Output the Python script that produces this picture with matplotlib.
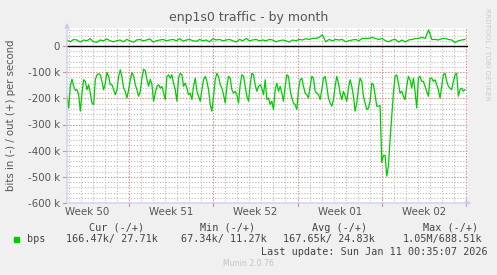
import numpy as np
import matplotlib
matplotlib.use("Agg")
import matplotlib.pyplot as plt

# =============================================================================
# DATA (values in kbit/s)
# =============================================================================
in_kbps = [
    -192, -237, -154, -127, -154, -170, -167, -186, -249, -180,
    -129, -135, -167, -148, -180, -218, -224, -129, -110, -106,
    -110, -135, -167, -142, -101, -116, -148, -148, -167, -186,
    -167, -116, -91, -119, -161, -173, -199, -167, -129, -101,
    -114, -148, -167, -192, -173, -123, -89, -94, -129, -154,
    -127, -148, -211, -180, -154, -148, -161, -154, -180,
    -205, -116, -110, -123, -110, -142, -167, -211, -123, -104,
    -110, -154, -142, -161, -186, -180, -205, -154, -123, -173,
    -192, -211, -167, -129, -116, -135, -167, -224, -249, -192,
    -129, -104, -116, -148, -161, -186, -218, -154, -116, -123,
    -167, -180, -173, -186, -218, -148, -110, -116, -154, -192,
    -211, -148, -104, -110, -148, -173, -154, -148, -161, -186,
    -129, -205, -199, -224, -211, -243, -167, -142, -173, -154,
    -180, -211, -154, -110, -116, -167, -199, -218, -224, -243,
    -167, -129, -123, -154, -180, -186, -199, -154, -116, -123,
    -173, -180, -186, -205, -167, -123, -116, -154, -199, -218,
    -230, -205, -154, -116, -142, -180, -205, -173, -192, -211,
    -161, -129, -154, -192, -249, -218, -161, -123, -135, -192,
    -218, -243, -237, -211, -142, -148, -186, -230, -230, -228,
    -445, -418, -418, -497, -459, -357, -269, -180, -116, -110,
    -142, -180, -173, -192, -205, -154, -116, -129, -161, -123,
    -173, -237, -123, -116, -135, -135, -154, -173, -192, -123,
    -123, -135, -129, -148, -167, -199, -154, -110, -104, -135,
    -154, -161, -167, -135, -110, -104, -192, -167, -161, -173,
    -167,
]

out_kbps = [
    23, 16, 25, 23, 15, 23, 20, 28, 16, 14,
    23, 20, 27, 20, 16, 20, 23, 16, 25, 20,
    14, 23, 25, 20, 23, 27, 15, 20, 23, 25,
    20, 23, 25, 20, 28, 19, 23, 25, 20, 18,
    25, 20, 23, 16, 28, 23, 25, 20, 23, 25,
    20, 15, 25, 20, 29, 20, 23, 25, 20, 23,
    20, 25, 23, 16, 20, 23, 20, 15, 23, 20,
    25, 23, 28, 25, 29, 29, 33, 43, 16, 25,
    20, 25, 23, 25, 16, 20, 23, 25, 20, 29,
    29, 29, 33, 29, 25, 29, 20, 16, 23, 25,
    15, 23, 15, 23, 25, 28, 29, 33, 29, 61,
    25, 25, 23, 28, 29, 25, 23, 13, 20, 23,
    25,
]

y_ticks = [0, -100, -200, -300, -400, -500, -600]
y_tick_labels = ["0", "-100 k", "-200 k", "-300 k", "-400 k", "-500 k", "-600 k"]
week_labels = ["Week 50", "Week 51", "Week 52", "Week 01", "Week 02"]

legend_headers = ["Cur (-/+)", "Min (-/+)", "Avg (-/+)", "Max (-/+)"]
legend_values = ["166.47k/ 27.71k", "67.34k/ 11.27k", "167.65k/ 24.83k", "1.05M/688.51k"]

# =============================================================================
# LAYOUT (pixel geometry of the 497x275 munin image)
# =============================================================================
W, H = 497, 275
PX_DAY = 84.25 / 7.0          # pixels per day on the time axis
X0, X1 = 67, 468              # plot area left/right
Y_TOP, Y_BOT = 28, 203        # plot area top/bottom
T_END = (X1 - X0) / PX_DAY
FIRST_WEEK = (129 - X0) / PX_DAY
Y_MAX = (46 - Y_TOP) / ((Y_BOT - 46) / 600.0)

GREEN = "#00CC00"
TXT = "#555555"
AXIS = "#C8CCF4"
MINOR = "#BDBDBD"
MAJOR = "#E88888"


def fx(px):
    return px / W


def fy(py):
    return 1 - py / H


fig = plt.figure(figsize=(W / 100, H / 100), dpi=100)
fig.patch.set_facecolor("#F0F0F0")
ax = fig.add_axes([fx(X0), fy(Y_BOT), (X1 - X0) / W, (Y_BOT - Y_TOP) / H])
ax.set_facecolor("white")
ax.set_xlim(0, T_END)
ax.set_ylim(-600, Y_MAX)

# grid: minor grey dotted, major red dotted
dot = (0, (1, 1.6))
for d in np.arange(FIRST_WEEK - 5, T_END, 1.0):
    ax.axvline(d, color=MINOR, lw=0.8, ls=dot, zorder=1)
for v in np.arange(-580, Y_MAX, 20):
    ax.axhline(v, color=MINOR, lw=0.8, ls=dot, zorder=1)
for d in np.arange(FIRST_WEEK, T_END, 7.0):
    ax.axvline(d, color=MAJOR, lw=0.8, ls=dot, zorder=1.5)
for v in y_ticks:
    ax.axhline(v, color=MAJOR, lw=0.8, ls=dot, zorder=1.5)

# series
t_in = np.linspace(0, 33.07, len(in_kbps))
t_out = np.linspace(0, 33.07, len(out_kbps))
ax.plot(t_in, in_kbps, color=GREEN, lw=0.9, zorder=3)
ax.plot(t_out, out_kbps, color=GREEN, lw=0.9, zorder=3)
ax.axhline(0, color="black", lw=1.0, zorder=2.5)

# ticks (short marks outside the plot, like rrdtool)
ax.set_yticks(y_ticks)
ax.set_yticklabels(y_tick_labels)
ax.set_xticks([FIRST_WEEK - 3.5 + 7 * i for i in range(len(week_labels))])
ax.set_xticklabels(week_labels)
ax.tick_params(axis="both", length=0, labelsize=7.4, labelcolor=TXT, pad=5)
ax.tick_params(axis="x", pad=3)
for v in y_ticks:
    ax.plot([-0.3, -0.05], [v, v], color=MAJOR, lw=0.8, clip_on=False, zorder=2)
for d in np.arange(FIRST_WEEK, T_END, 7.0):
    ax.plot([d, d], [-600, -610], color=MAJOR, lw=0.8, clip_on=False, zorder=2)
for s in ax.spines.values():
    s.set_visible(False)

# axes with arrows
ax.annotate("", xy=(fx(X1 + 6), fy(Y_BOT)), xytext=(fx(X0 - 2), fy(Y_BOT)),
            xycoords="figure fraction",
            arrowprops=dict(arrowstyle="-|>", color=AXIS, lw=0.9, mutation_scale=7))
ax.annotate("", xy=(fx(X0), fy(Y_TOP - 8)), xytext=(fx(X0), fy(Y_BOT + 2)),
            xycoords="figure fraction",
            arrowprops=dict(arrowstyle="-|>", color=AXIS, lw=0.9, mutation_scale=7))

# texts
fig.text(fx(249), fy(17), "enp1s0 traffic - by month", ha="center", va="center",
         fontsize=9.0, color=TXT)
fig.text(fx(11), fy(115), "bits in (-) / out (+) per second", ha="center", va="center",
         rotation=90, fontsize=7.3, color=TXT)
fig.text(fx(487), fy(54), "RRDTOOL / TOBI OETIKER", ha="center", va="center",
         rotation=270, fontsize=5.2, color="#CCCCCC")

mono = dict(family="DejaVu Sans Mono", fontsize=7.3, color="#444444", va="center")
header_x = [89, 200, 312, 423]
value_x = [66, 181, 283, 403]
for hx, hdr in zip(header_x, legend_headers):
    fig.text(fx(hx), fy(228), hdr, ha="left", **mono)
for vx, val in zip(value_x, legend_values):
    fig.text(fx(vx), fy(239), val, ha="left", **mono)
fig.patches.append(plt.Rectangle((fx(14), fy(241.5)), 5 / W, 5 / H,
                                 transform=fig.transFigure, color=GREEN))
fig.text(fx(27), fy(239), "bps", ha="left", **mono)
fig.text(fx(261), fy(252), "Last update: Sun Jan 11 00:35:07 2026", ha="left", **mono)
fig.text(fx(248), fy(264), "Munin 2.0.76", ha="center", va="center",
         fontsize=5.6, color="#C4C4C4")

fig.savefig("out.png", dpi=100, facecolor=fig.get_facecolor())
